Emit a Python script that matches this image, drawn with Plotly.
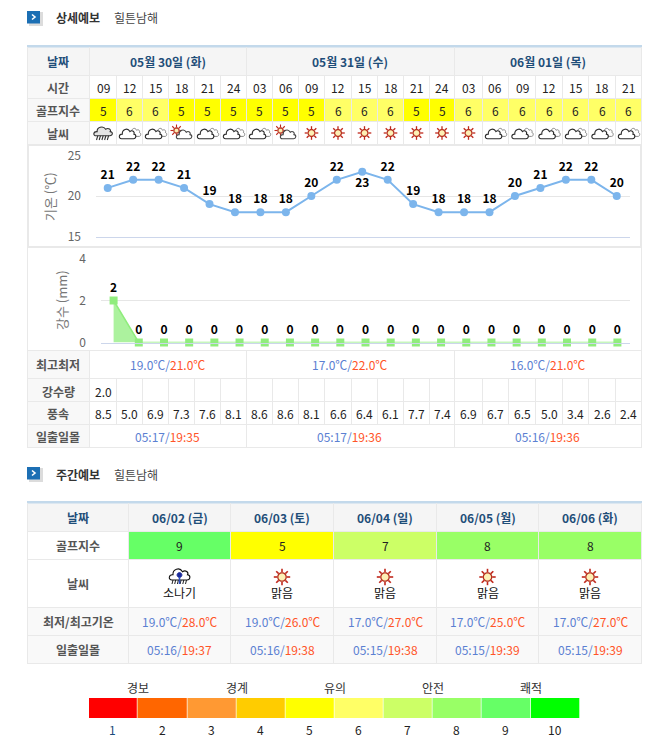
import math
import plotly.graph_objects as go

# ---- forecast data -------------------------------------------------------
section_titles = ["상세예보", "주간예보"]
course_name = "힐튼남해"

date_labels = ["05월 30일 (화)", "05월 31일 (수)", "06월 01일 (목)"]
date_spans = [6, 8, 7]
hours = ["09", "12", "15", "18", "21", "24",
         "03", "06", "09", "12", "15", "18", "21", "24",
         "03", "06", "09", "12", "15", "18", "21"]
golf_index = [5, 6, 6, 5, 5, 5,
              5, 5, 5, 6, 6, 6, 5, 5,
              6, 6, 6, 6, 6, 6, 6]
weather = ["rain", "cloud", "cloud", "partly", "cloud", "cloud",
           "cloud", "partly", "sun", "sun", "sun", "sun", "sun", "sun",
           "sun", "cloud", "cloud", "cloud", "cloud", "cloud", "cloud"]
temperature = [21, 22, 22, 21, 19, 18, 18, 18, 20, 22, 23, 22, 19, 18, 18, 18, 20, 21, 22, 22, 20]
rainfall = [2, 0, 0, 0, 0, 0, 0, 0, 0, 0, 0, 0, 0, 0, 0, 0, 0, 0, 0, 0, 0]
daily_low_high = [("19.0", "21.0"), ("17.0", "22.0"), ("16.0", "21.0")]
rain_amount = ["2.0"] + [""] * 20
wind_speed = [8.5, 5.0, 6.9, 7.3, 7.6, 8.1,
              8.6, 8.6, 8.1, 6.6, 6.4, 6.1, 7.7, 7.4,
              6.9, 6.7, 6.5, 5.0, 3.4, 2.6, 2.4]
daily_sun = [("05:17", "19:35"), ("05:17", "19:36"), ("05:16", "19:36")]

week_dates = ["06/02 (금)", "06/03 (토)", "06/04 (일)", "06/05 (월)", "06/06 (화)"]
week_golf = [9, 5, 7, 8, 8]
week_weather = ["shower", "sun", "sun", "sun", "sun"]
week_weather_text = ["소나기", "맑음", "맑음", "맑음", "맑음"]
week_low_high = [("19.0", "28.0"), ("19.0", "26.0"), ("17.0", "27.0"), ("17.0", "25.0"), ("17.0", "27.0")]
week_sun = [("05:16", "19:37"), ("05:16", "19:38"), ("05:15", "19:38"), ("05:15", "19:39"), ("05:15", "19:39")]

scale_colors = ["#FF0000", "#FF6600", "#FF9933", "#FFCC00", "#FFFF00",
                "#FFFF66", "#CCFF66", "#99FF66", "#66FF66", "#00FF00"]
scale_numbers = ["1", "2", "3", "4", "5", "6", "7", "8", "9", "10"]
scale_groups = ["경보", "경계", "유의", "안전", "쾌적"]

# ---- page geometry (pixels) ----------------------------------------------
W, H = 670, 748
FONT = "Noto Sans CJK KR"
GRID = "#e9e9e9"
NAVY = "#1f4e79"
LABEL = "#555555"
INK = "#222222"
BLUE = "#5b80d2"
RED = "#ff5428"

col_edges = [89, 116, 142, 168, 194, 220, 246, 272, 298, 324, 351, 377, 403,
             429, 454, 482, 508, 535, 562, 588, 615, 641]
week_edges = [128, 230, 333, 436, 538, 641]
scale_edges = [89, 137.5, 187.5, 236.5, 285.5, 334.5, 383.5, 432.5, 481.5, 531, 580]


def px(x):
    return x / W


def py(y):
    return 1 - y / H


shapes = []
annotations = []


def rect(x0, y0, x1, y1, fill):
    shapes.append(dict(type="rect", xref="paper", yref="paper", layer="below",
                       x0=px(x0), x1=px(x1), y0=py(y0), y1=py(y1),
                       fillcolor=fill, line_width=0))


def hline(x0, x1, y, color=GRID):
    rect(x0, y, x1, y + 1, color)


def vline(x, y0, y1, color=GRID):
    rect(x, y0, x + 1, y1, color)


def text(x, y, s, size=12, color=INK, bold=False, anchor="center", angle=0):
    annotations.append(dict(xref="paper", yref="paper", x=px(x), y=py(y), text=f"<b>{s}</b>" if bold else s,
                            showarrow=False, xanchor=anchor, yanchor="middle", borderpad=0, textangle=angle,
                            font=dict(family=FONT, size=size, color=color)))


def low_high(pair, unit="℃"):
    return (f'<span style="color:{BLUE}">{pair[0]}{unit}/</span>'
            f'<span style="color:{RED}">{pair[1]}{unit}</span>')


def sun_times(pair):
    return (f'<span style="color:{BLUE}">{pair[0]}/</span>'
            f'<span style="color:{RED}">{pair[1]}</span>')


def path(d, fill="rgba(0,0,0,0)", color="#000000", width=1.0):
    shapes.append(dict(type="path", xref="paper", yref="paper", layer="above", path=d,
                       fillcolor=fill, line=dict(color=color, width=width)))


def fmt(points):
    return " ".join(f"{c} {px(x):.5f},{py(y):.5f}" for c, x, y in points)


def circle_path(cx, cy, r):
    pts = []
    for i in range(24):
        a = 2 * math.pi * i / 24
        pts.append(("M" if i == 0 else "L", cx + r * math.cos(a), cy + r * math.sin(a)))
    return fmt(pts) + " Z"


def cloud_path(cx, cy, w, h):
    def p(u, v):
        return f"{px(cx + u * w / 2):.5f},{py(cy + v * h / 2):.5f}"
    return (f"M {p(-0.75, 0.8)} C {p(-1.15, 0.8)} {p(-1.1, 0.05)} {p(-0.65, 0.1)} "
            f"C {p(-0.7, -0.6)} {p(0.0, -1.0)} {p(0.3, -0.3)} "
            f"C {p(0.6, -0.6)} {p(0.95, -0.25)} {p(0.8, 0.1)} "
            f"C {p(1.15, 0.15)} {p(1.1, 0.8)} {p(0.75, 0.8)} Z")


def draw_sun(cx, cy, r_core, r_ray, ray_width=1.3):
    for i in range(8):
        a = math.pi * i / 4
        d = fmt([("M", cx + (r_core + 0.5) * math.cos(a), cy + (r_core + 0.5) * math.sin(a)),
                 ("L", cx + r_ray * math.cos(a), cy + r_ray * math.sin(a))])
        path(d, color="#c0281c", width=ray_width)
    path(circle_path(cx, cy, r_core), fill="#fdf0b5", color="#b5301e", width=1.3)


def draw_cloud(cx, cy):
    path(cloud_path(cx + 5.5, cy - 1, 11, 11), fill="#ffffff", color="#8a8a8a", width=1)
    path(cloud_path(cx - 2, cy + 0.5, 16, 13), fill="#ffffff", color="#2a2a2a", width=1.1)


def draw_partly(cx, cy):
    draw_sun(cx - 5, cy - 2.5, 2.6, 6, 1.1)
    path(cloud_path(cx + 2.5, cy + 1, 15, 12), fill="#ffffff", color="#444444", width=1.1)


def draw_rain(cx, cy):
    for i in range(5):
        x = cx - 5 + i * 2.7
        path(fmt([("M", x, cy + 2), ("L", x - 1.5, cy + 7)]), color="#333333", width=1.1)
    path(cloud_path(cx, cy - 2, 18, 12), fill="#e4e4e4", color="#333333", width=1.1)


def draw_shower(cx, cy):
    for i in range(6):
        x = cx - 6 + i * 2.7
        path(fmt([("M", x, cy + 4), ("L", x - 1.5, cy + 10)]), color="#222222", width=1)
    path(cloud_path(cx, cy, 20, 15), fill="#ffffff", color="#111111", width=1.1)
    path(circle_path(cx, cy + 1, 2.4), fill="#1c2c9c", color="#1c2c9c", width=1)
    path(fmt([("M", cx, cy + 3), ("L", cx, cy + 10)]), color="#3050c0", width=1.6)


ICONS = {"sun": lambda x, y: draw_sun(x, y, 3.4, 6.8), "cloud": draw_cloud,
         "partly": draw_partly, "rain": draw_rain, "shower": draw_shower}


def section_header(y, title):
    rect(29, y - 6, 43, y + 8, "#dcdcdc")
    rect(27, y - 7, 40, y + 5.5, "#1c6fb4")
    path(fmt([("M", 32, y - 3.5), ("L", 35, y - 1), ("L", 32, y + 1.5)]), color="#ffffff", width=1.6)
    text(55, y, title, 12, "#333333", bold=True, anchor="left")
    text(113, y, course_name, 12, "#444444", anchor="left")


# ---- detailed forecast table ---------------------------------------------
section_header(18, section_titles[0])

rect(27, 47, 641, 75, "#f5f5f5")
rect(27, 75, 89, 145, "#f8f8f8")
rect(27, 350, 89, 448, "#f8f8f8")
rect(27, 45, 642, 47.5, "#c3d9eb")

for i, v in enumerate(golf_index):
    rect(col_edges[i], 98, col_edges[i + 1] + 1, 122, scale_colors[v - 1])

for y in [75, 98, 121, 144]:
    hline(27, 642, y)
for y in [145, 246, 247, 350, 378, 401, 424, 447]:
    hline(27, 642, y)
vline(27, 47, 448)
vline(28, 145, 247)
vline(640, 145, 248)
vline(641, 47, 448)
vline(89, 47, 145)
vline(89, 350, 448)

day_starts = [0, 6, 14, 21]
for e in col_edges[1:-1]:
    for y0, y1 in [(75, 145), (378, 425)]:
        vline(e, y0, y1)
for i in day_starts[1:3]:
    vline(col_edges[i], 47, 75)
    vline(col_edges[i], 350, 378)
    vline(col_edges[i], 424, 448)

for y, label in [(61.7, "날짜"), (87.3, "시간"), (110.3, "골프지수"), (133.3, "날씨"),
                 (364.3, "최고최저"), (391, "강수량"), (413.7, "풍속"), (436.7, "일출일몰")]:
    text(58, y, label, 12, NAVY if label == "날짜" else LABEL, bold=True)

for d, label in enumerate(date_labels):
    x0, x1 = col_edges[day_starts[d]], col_edges[day_starts[d + 1]]
    mid = (x0 + x1) / 2
    text(mid, 61.7, label, 12, NAVY, bold=True)
    text(mid, 364.3, low_high(daily_low_high[d]), 12)
    text(mid, 436.7, sun_times(daily_sun[d]), 12)

for i in range(21):
    mid = (col_edges[i] + col_edges[i + 1] + 1) / 2
    text(mid, 87.3, hours[i], 12, INK)
    text(mid, 110.3, str(golf_index[i]), 12, INK)
    ICONS[weather[i]](mid, 133)
    if rain_amount[i]:
        text(mid, 391, rain_amount[i], 12, INK)
    text(mid, 413.7, f"{wind_speed[i]:.1f}", 12, INK)

# ---- weekly forecast table -----------------------------------------------
section_header(474, section_titles[1])

rect(27, 503, 641, 531, "#f5f5f5")
rect(27, 607, 641, 664, "#f9f9f9")
rect(27, 501, 642, 503.5, "#c3d9eb")
for i, v in enumerate(week_golf):
    rect(week_edges[i], 531, week_edges[i + 1] + 1, 560, scale_colors[v - 1])
for y in [531, 559, 607, 635, 663]:
    hline(27, 642, y)
vline(27, 503, 664)
for e in week_edges:
    vline(e, 503, 664)

for y, label in [(517.7, "날짜"), (545.7, "골프지수"), (583.3, "날씨"),
                 (621.7, "최저/최고기온"), (649.3, "일출일몰")]:
    text(78, y, label, 12, NAVY if label == "날짜" else LABEL, bold=True)

for i in range(5):
    mid = (week_edges[i] + week_edges[i + 1] + 1) / 2
    text(mid, 517.7, week_dates[i], 12, NAVY, bold=True)
    text(mid, 545.7, str(week_golf[i]), 12, INK)
    if week_weather[i] == "sun":
        draw_sun(mid, 577, 4.2, 8.2, 1.6)
    else:
        ICONS[week_weather[i]](mid, 574)
    text(mid, 592.7, week_weather_text[i], 12, "#111111")
    text(mid, 621.7, low_high(week_low_high[i]), 12)
    text(mid, 649.3, sun_times(week_sun[i]), 12)

# ---- golf index colour scale ---------------------------------------------
for i, c in enumerate(scale_colors):
    rect(scale_edges[i], 698, scale_edges[i + 1] - 0.7, 718, c)
    text((scale_edges[i] + scale_edges[i + 1]) / 2 - 0.5, 729, scale_numbers[i], 12,
         "#1a4a7a" if i == 0 else INK)
for i, label in enumerate(scale_groups):
    text(scale_edges[2 * i + 1], 687.7, label, 12, "#333333")

# ---- temperature and rainfall charts -------------------------------------
text(50, 196, "기온 (℃)", 13, "#777777", angle=-90)
text(61.5, 300.5, "강수 (mm)", 13, "#777777", angle=-90)

fig = go.Figure()
idx = list(range(len(temperature)))
VALUE_FONT = dict(family=FONT, size=12, color="#000000", weight="bold", shadow="0 0 2px #ffffff")

fig.add_trace(go.Scatter(
    x=idx, y=temperature, xaxis="x", yaxis="y", mode="lines+markers+text",
    line=dict(color="#7cb5ec", width=2), marker=dict(color="#7cb5ec", size=8, symbol="circle"),
    text=[str(t) for t in temperature],
    textposition=["bottom center" if t == max(temperature) else "top center" for t in temperature],
    textfont=VALUE_FONT,
    cliponaxis=False, hoverinfo="skip", showlegend=False))

fig.add_trace(go.Scatter(
    x=idx, y=rainfall, xaxis="x2", yaxis="y2", mode="lines+markers+text", fill="tozeroy",
    fillcolor="rgba(144,237,125,0.75)",
    line=dict(color="#90ed7d", width=1.5), marker=dict(color="#90ed7d", size=8, symbol="square"),
    text=[str(r) for r in rainfall], textposition="top center",
    textfont=VALUE_FONT,
    cliponaxis=False, hoverinfo="skip", showlegend=False))

AXIS_LINE = "#ccd6eb"
TICKS = dict(family=FONT, size=12, color="#666666")
fig.update_layout(
    template="none",
    width=W, height=H, autosize=False, margin=dict(l=0, r=0, t=0, b=0, pad=0),
    paper_bgcolor="#ffffff", plot_bgcolor="rgba(0,0,0,0)", showlegend=False,
    shapes=shapes, annotations=annotations,
    xaxis=dict(domain=[px(96), px(630)], range=[-0.46, 20.52], anchor="y", showgrid=False, automargin=False,
               showticklabels=False, ticks="", showline=True, linecolor=AXIS_LINE, zeroline=False, fixedrange=True),
    yaxis=dict(domain=[py(236.5), py(155.5)], range=[15, 25], anchor="x", tickvals=[15, 20, 25], automargin=False,
               gridcolor="#e6e6e6", gridwidth=1, zeroline=False, showline=False, ticks="",
               ticklabelstandoff=14, tickfont=TICKS, fixedrange=True),
    xaxis2=dict(domain=[px(101), px(630)], range=[-0.5, 20.5], anchor="y2", showgrid=False, automargin=False,
                showticklabels=False, ticks="", showline=True, linecolor=AXIS_LINE, zeroline=False, fixedrange=True),
    yaxis2=dict(domain=[py(342.5), py(258.5)], range=[0, 4], anchor="x2", tickvals=[0, 2, 4], automargin=False,
                gridcolor="#e6e6e6", gridwidth=1, zeroline=False, showline=False, ticks="",
                ticklabelstandoff=14, tickfont=TICKS, fixedrange=True),
)

fig.write_html("out.html", config=dict(displayModeBar=False))
